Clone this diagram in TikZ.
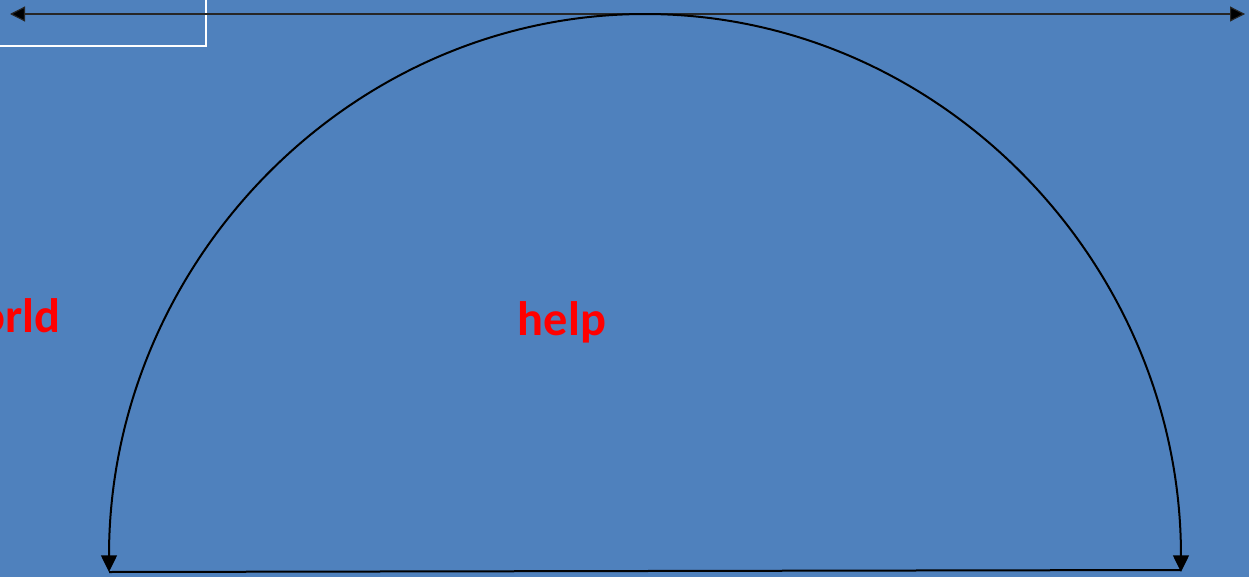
\documentclass[tikz,border=0pt]{standalone}
\usepackage{fontspec}
\setmainfont{Carlito}
\usetikzlibrary{arrows.meta}
\definecolor{bgblue}{HTML}{4F81BD}
\definecolor{txtred}{HTML}{FF0000}
\tikzset{
  lbl/.style={text=txtred, font=\fontsize{29}{34}\selectfont\bfseries, inner sep=0pt},
  conn/.style={draw=black, line width=1.2pt},
  thinline/.style={draw=black!85, line width=0.7pt},
}
\begin{document}
\begin{tikzpicture}[x=0.6pt,y=-0.6pt]
\useasboundingbox (0,0) rectangle (1249,577);
\clip (0,0) rectangle (1249,577);
\fill[bgblue] (0,0) rectangle (1249,577);
% partial white box
\draw[white, line width=1.2pt] (-20,-20) rectangle (206,46);
% top double arrow
\coordinate (tl) at (10,14);
\coordinate (tr) at (1245,14);
\draw[thinline, {Triangle[length=9pt,width=9pt,fill=black]}-{Triangle[length=9pt,width=9pt,fill=black]}] (tl) -- (tr);
% arc
\coordinate (al) at (109,572);
\coordinate (ar) at (1181,570);
\draw[conn, {Triangle[length=10pt,width=9.5pt]}-{Triangle[length=10pt,width=9.5pt]}]
  (al) arc[start angle=180, end angle=0, x radius=321.6pt, y radius=334.8pt];
% bottom line
\draw[conn] (al) -- (ar);
% labels
\node[lbl, anchor=base] (help) at (562,335) {help};
\node[lbl, anchor=base east] (world) at (61,332) {world};
\end{tikzpicture}
\end{document}
